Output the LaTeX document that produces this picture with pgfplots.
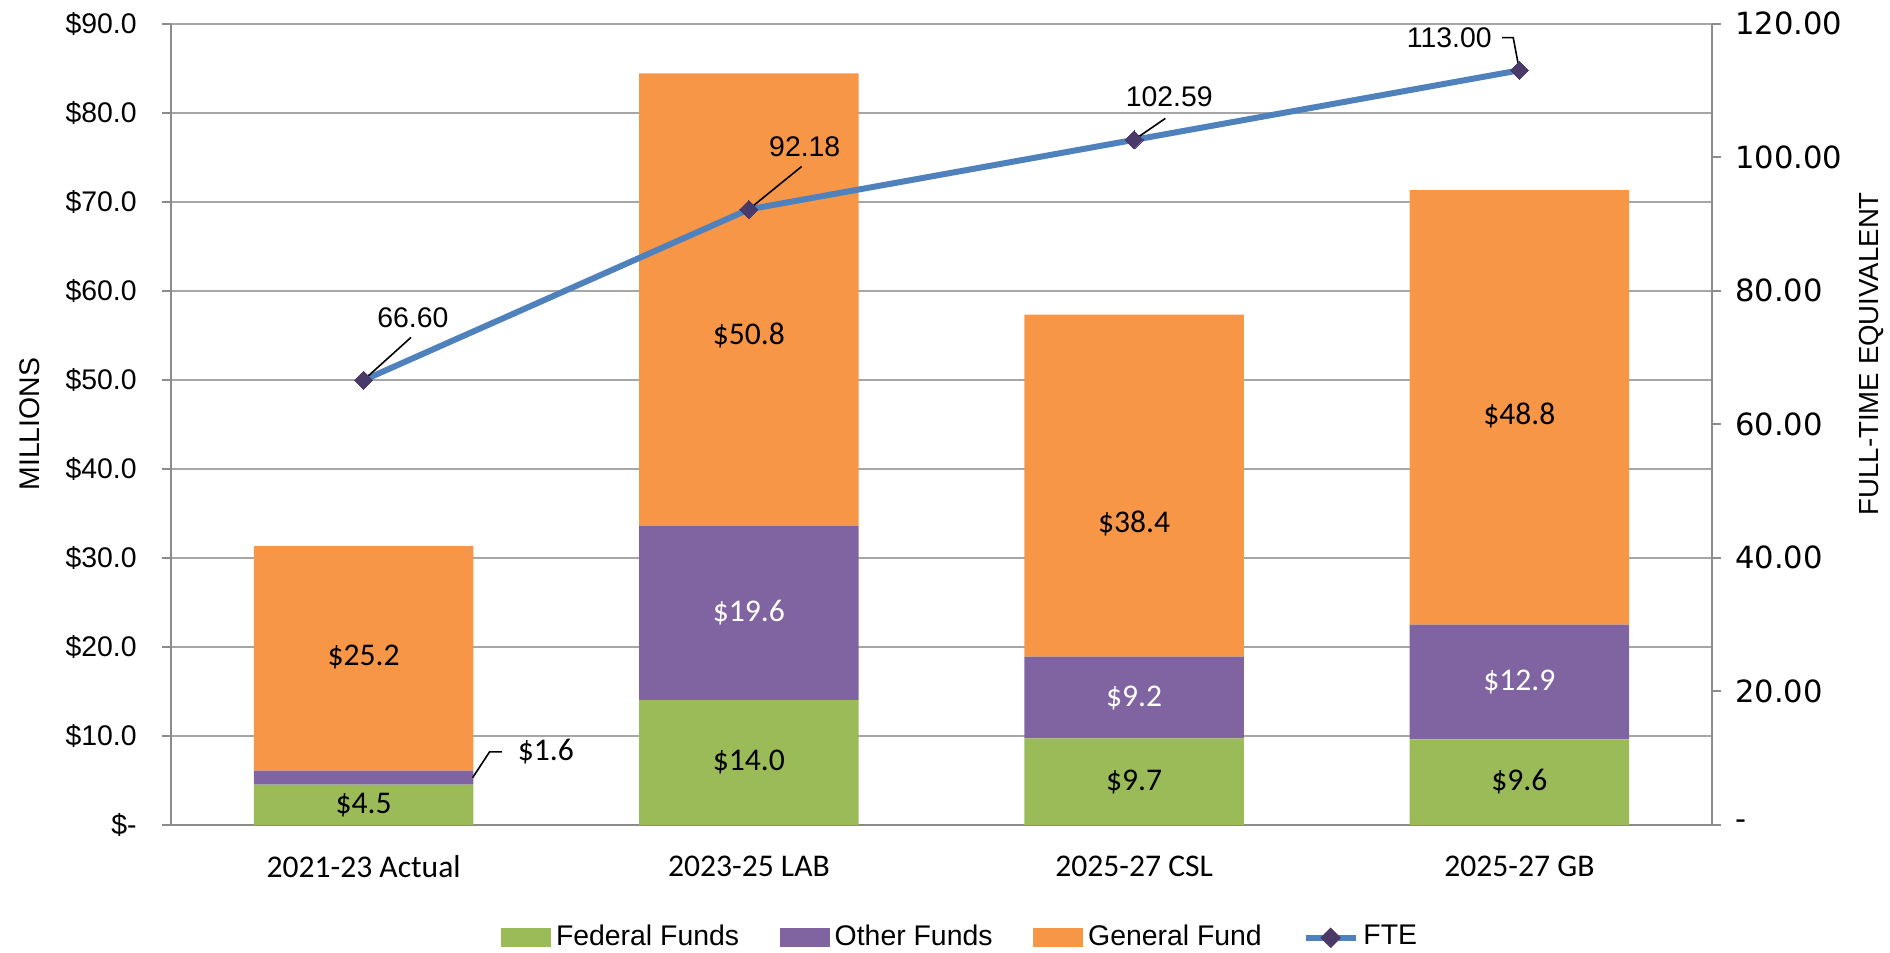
\documentclass[border=0pt]{standalone}
\usepackage{fontspec}
\setmainfont{Liberation Sans}
\newfontfamily\calfont{Carlito}
\newfontfamily\dvfont{DejaVu Sans}
\usepackage{pgfplots}
\pgfplotsset{compat=1.18}
\definecolor{fedgreen}{HTML}{9BBB59}
\definecolor{othpurple}{HTML}{8064A2}
\definecolor{genorange}{HTML}{F79646}
\definecolor{fteblue}{HTML}{4F81BD}
\definecolor{ftemark}{HTML}{4A3A6A}
\definecolor{gridgray}{HTML}{A6A6A6}
\definecolor{axisgray}{HTML}{8C8C8C}
\tikzset{bl/.style={font=\calfont\fontsize{7.9}{9}\selectfont}, fl/.style={font=\fontsize{7.1}{8}\selectfont}}
\pgfplotsset{
  barlegend/.style={legend image code/.code={\fill[##1] (0pt,-2.375pt) rectangle (12.5pt,2.375pt);}},
  ftelegend/.style={legend image code/.code={%
    \draw[fteblue, line width=1.5pt] (0pt,0pt) -- (12.5pt,0pt);
    \fill[ftemark] (6.25pt,2.3pt) -- (8.55pt,0pt) -- (6.25pt,-2.3pt) -- (3.95pt,0pt) -- cycle;}},
}

\begin{document}
\begin{tikzpicture}
\begin{axis}[
  scale only axis, width=385.25pt, height=200.3pt,
  xmin=-0.5, xmax=3.5, ymin=0, ymax=90,
  ybar stacked, bar width=0.57,
  clip=false,
  axis y line*=left, axis x line*=bottom,
  axis line style={axisgray, line width=0.6pt},
  xtick={0,1,2,3}, xticklabels={2021-23 Actual,2023-25 LAB,2025-27 CSL,2025-27 GB},
  xtick style={draw=none},
  xticklabel style={font=\calfont\fontsize{7.9}{9}\selectfont, yshift=-1.9pt},
  ytick={0,10,...,90},
  yticklabels={\$-,\$10.0,\$20.0,\$30.0,\$40.0,\$50.0,\$60.0,\$70.0,\$80.0,\$90.0},
  yticklabel style={font=\fontsize{7.1}{8}\selectfont, xshift=-2.8pt},
  tick align=outside, major tick length=2.25pt,
  ytick style={axisgray, line width=0.5pt},
  ymajorgrids, grid style={gridgray, line width=0.5pt},
  ylabel={MILLIONS},
  ylabel style={at={(axis description cs:-0.0915,0.5)}, anchor=center, font=\fontsize{7.1}{8}\selectfont},
  legend columns=4,
  legend style={at={(0.513,-0.141)}, anchor=center, draw=none, fill=none,
    font=\fontsize{7.1}{8}\selectfont,
    /tikz/every even column/.append style={column sep=9pt},
    nodes={inner sep=1.2pt}},
]
\addplot[fill=fedgreen, draw=none, barlegend] coordinates {(0,4.5) (1,14.0) (2,9.7) (3,9.6)};
\addlegendentry{Federal Funds}
\addplot[fill=othpurple, draw=none, barlegend] coordinates {(0,1.6) (1,19.6) (2,9.2) (3,12.9)};
\addlegendentry{Other Funds}
\addplot[fill=genorange, draw=none, barlegend] coordinates {(0,25.2) (1,50.8) (2,38.4) (3,48.8)};
\addlegendentry{General Fund}
\addlegendimage{ftelegend}
\addlegendentry{FTE}
\end{axis}
\begin{axis}[
  scale only axis, width=385.25pt, height=200.3pt,
  xmin=-0.5, xmax=3.5, ymin=0, ymax=90,
  clip=false, hide axis,
]
\node[bl] at (axis cs:0,2.25) {\$4.5};
\node[bl] at (axis cs:1,7.0) {\$14.0};
\node[bl] at (axis cs:2,4.85) {\$9.7};
\node[bl] at (axis cs:3,4.8) {\$9.6};
\node[bl,white] at (axis cs:1,23.8) {\$19.6};
\node[bl,white] at (axis cs:2,14.3) {\$9.2};
\node[bl,white] at (axis cs:3,16.05) {\$12.9};
\node[bl] at (axis cs:0,18.9) {\$25.2};
\node[bl] at (axis cs:1,55.0) {\$50.8};
\node[bl] at (axis cs:2,33.8) {\$38.4};
\node[bl] at (axis cs:3,46.0) {\$48.8};
\draw[black, line width=0.4pt] (axis cs:0.283,5.3) -- (axis cs:0.327,8.2) -- (axis cs:0.359,8.2);
\node[bl, anchor=west, inner sep=0pt] at (axis cs:0.398,8.2) {\$1.6};
\end{axis}
\begin{axis}[
  scale only axis, width=385.25pt, height=200.3pt,
  xmin=-0.5, xmax=3.5, ymin=0, ymax=120,
  clip=false,
  axis x line=none, axis y line*=right,
  axis line style={axisgray, line width=0.6pt},
  ytick={0,20,...,120},
  yticklabels={-,20.00,40.00,60.00,80.00,100.00,120.00},
  yticklabel style={font=\dvfont\fontsize{7.65}{9}\selectfont},
  tick align=outside, major tick length=2.25pt,
  ytick style={axisgray, line width=0.5pt},
  ylabel={FULL-TIME EQUIVALENT},
  ylabel style={at={(axis description cs:1.1032,0.588)}, anchor=center, font=\fontsize{6.9}{8}\selectfont},
]
\addplot[fteblue, line width=1.5pt, mark=square*, mark size=1.6pt,
  mark options={rotate=45, fill=ftemark, draw=ftemark, line width=0pt}]
  coordinates {(0,66.60) (1,92.18) (2,102.59) (3,113.00)};
\draw[black, line width=0.4pt] (axis cs:0,66.6) -- (axis cs:0.123,73.0);
\node[fl] at (axis cs:0.128,76.0) {66.60};
\draw[black, line width=0.4pt] (axis cs:1,92.18) -- (axis cs:1.137,98.6);
\node[fl] at (axis cs:1.145,101.6) {92.18};
\draw[black, line width=0.4pt] (axis cs:2,102.59) -- (axis cs:2.081,105.8);
\node[fl] at (axis cs:2.091,109.1) {102.59};
\draw[black, line width=0.4pt] (axis cs:2.955,117.9) -- (axis cs:2.984,117.9) -- (axis cs:3,113.0);
\node[fl] at (axis cs:2.818,117.9) {113.00};
\end{axis}
\pgfresetboundingbox
\path ([shift={(-42.75pt,-32pt)}]current axis.south west) rectangle ([shift={(44.5pt,5.9pt)}]current axis.north east);
\end{tikzpicture}
\end{document}
